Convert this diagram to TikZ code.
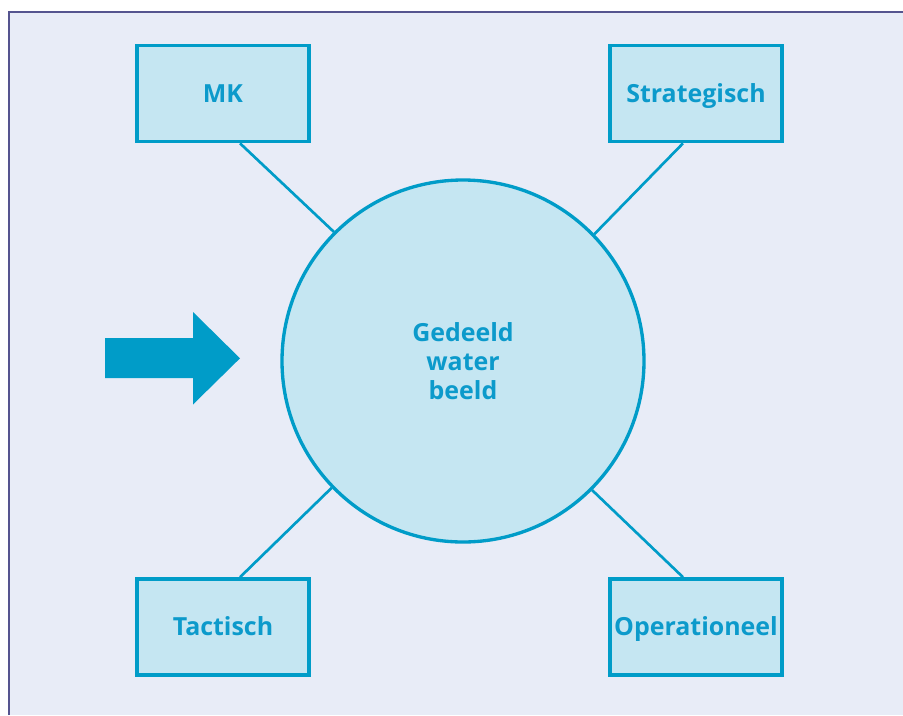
\documentclass[tikz,border=0pt]{standalone}
\usepackage{fontspec}
\setmainfont{Open Sans}
\usetikzlibrary{calc}

\definecolor{pagebg}{HTML}{E8ECF7}
\definecolor{framecol}{HTML}{55548F}
\definecolor{waterblue}{HTML}{009CC8}
\definecolor{waterfill}{HTML}{C5E6F2}
\definecolor{labelblue}{HTML}{0C9ACB}

\tikzset{
  level/.style={draw=waterblue, line width=2.7pt, fill=waterfill,
    minimum width=129pt, minimum height=72pt, inner sep=0pt,
    text height=13.3pt, text depth=0pt,
    text=labelblue, font=\bfseries\fontsize{18.7}{21}\selectfont},
  hub/.style={circle, draw=waterblue, line width=2.5pt, fill=waterfill,
    minimum size=271.5pt, inner sep=0pt, align=center,
    text=labelblue, font=\bfseries\fontsize{18.7}{21.5}\selectfont},
  link/.style={draw=waterblue, line width=2pt},
  bigarrow/.style={fill=waterblue, draw=none}
}

\begin{document}
\begin{tikzpicture}[x=0.75pt, y=-0.75pt]
  % page area
  \useasboundingbox (0,0) rectangle (903,715);
  \fill[white] (0,0) rectangle (903,715);
  \fill[pagebg] (9,12) rectangle (903,715);
  \draw[framecol, line width=1.1pt] (9,715) -- (9,12) -- (903,12);

  % central shared picture
  \node[hub] (c) at (463,361) {Gedeeld\\water\\beeld};

  % the four levels
  \node[level] (mk)  at (223,93.5)  {MK};
  \node[level] (str) at (696,93.5)  {Strategisch};
  \node[level] (tac) at (223,627)   {Tactisch};
  \node[level] (ope) at (696,627)   {Operationeel};

  % connectors from the circle to each level
  \draw[link] (c.135.8) -- ($(mk.south)+(17,0)$);
  \draw[link] (c.44.2)  -- ($(str.south)+(-13,0)$);
  \draw[link] (c.224.2) -- ($(tac.north)+(17,0)$);
  \draw[link] (c.315.8) -- ($(ope.north)+(-13,0)$);

  % input arrow
  \path[bigarrow] (105,338) -- (193,338) -- (193,312) -- (240,358.3)
    -- (193,404.5) -- (193,378) -- (105,378) -- cycle;
\end{tikzpicture}
\end{document}
